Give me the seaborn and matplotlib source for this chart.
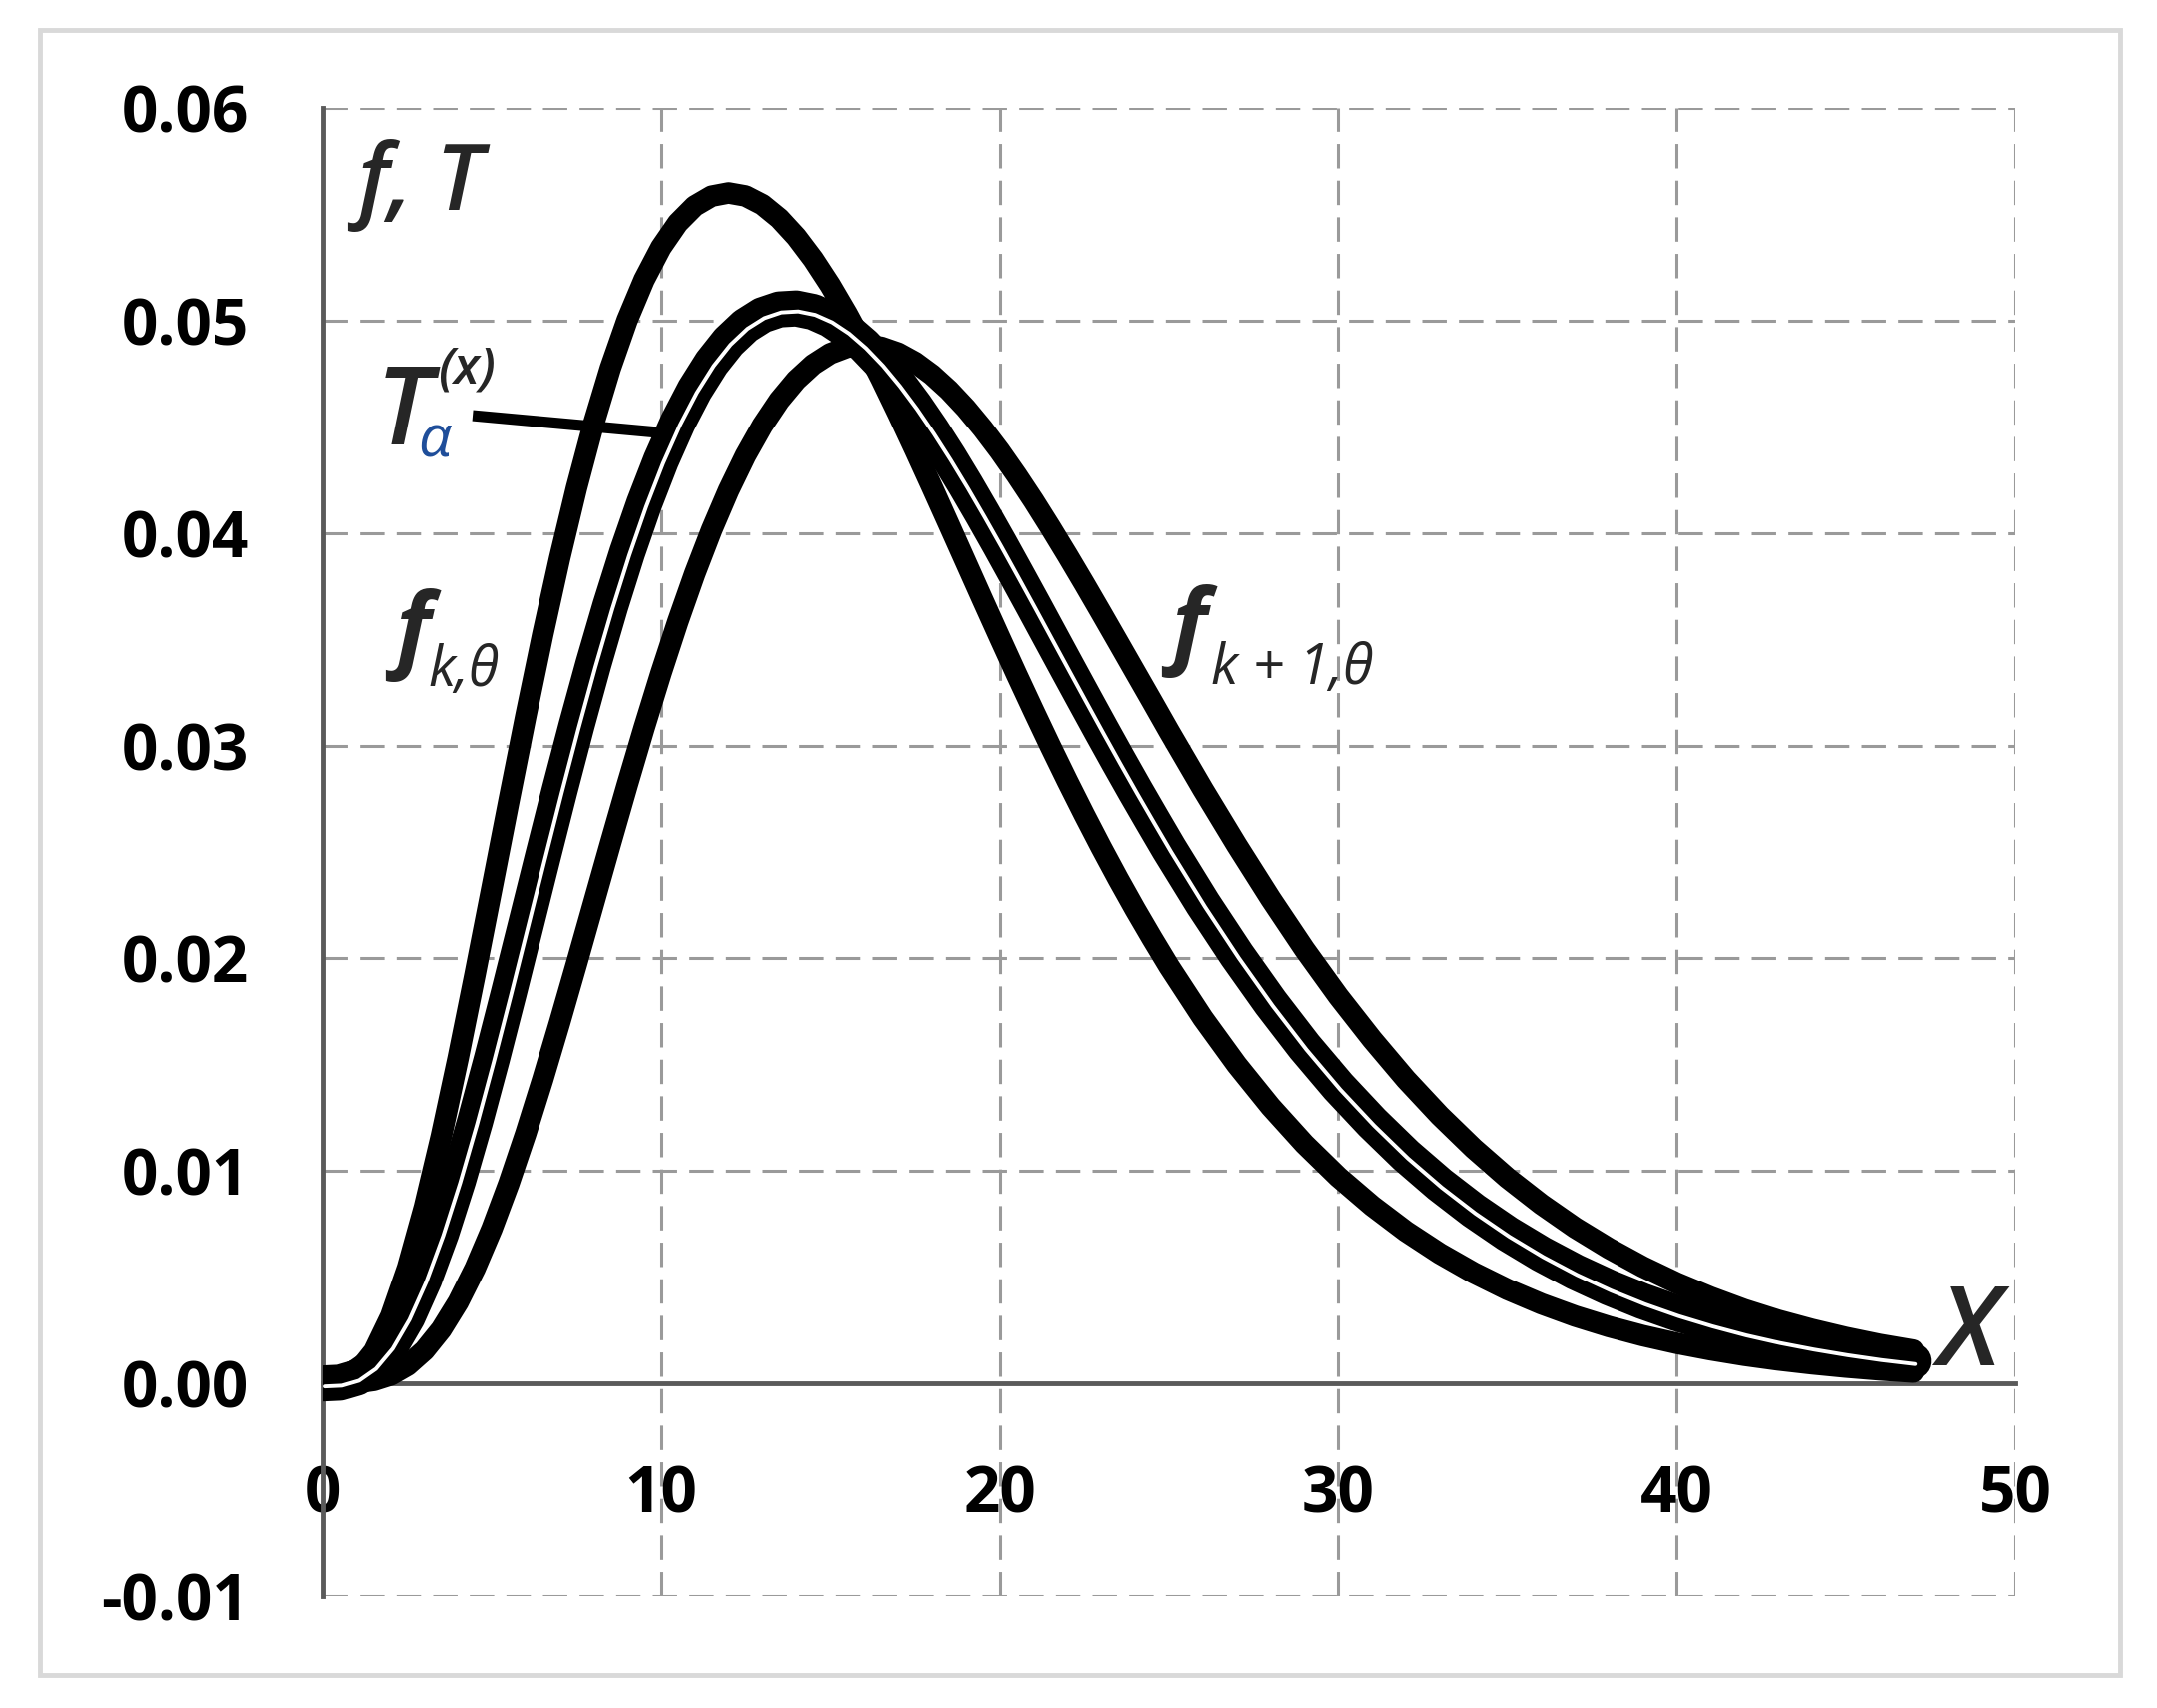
import numpy as np
import pandas as pd
import matplotlib
matplotlib.use("Agg")
import matplotlib.pyplot as plt
import matplotlib.transforms as mtransforms
from matplotlib.patches import Rectangle
import seaborn as sns

# ---------------- data ----------------
x_vals = [0.0, 0.5, 1.0, 1.5, 2.0, 2.5, 3.0, 3.5, 4.0, 4.5, 5.0, 5.5, 6.0, 6.5, 7.0, 7.5,
          8.0, 8.5, 9.0, 9.5, 10.0, 10.5, 11.0, 11.5, 12.0, 12.5, 13.0, 13.5, 14.0, 14.5,
          15.0, 15.5, 16.0, 16.5, 17.0, 17.5, 18.0, 18.5, 19.0, 19.5, 20.0, 20.5, 21.0,
          21.5, 22.0, 22.5, 23.0, 23.5, 24.0, 24.5, 25, 26, 27, 28, 29, 30, 31, 32, 33,
          34, 35, 36, 37, 38, 39, 40, 41, 42, 43, 44, 45, 46, 47]

f_k = [0.0, 0.000072, 0.000507, 0.001510, 0.003159, 0.005445, 0.008303, 0.011636,
       0.015328, 0.019261, 0.023316, 0.027387, 0.031378, 0.035206, 0.038805, 0.042120,
       0.045112, 0.047752, 0.050024, 0.051919, 0.053441, 0.054595, 0.055396, 0.055860,
       0.056010, 0.055869, 0.055460, 0.054811, 0.053946, 0.052892, 0.051675, 0.050318,
       0.048842, 0.047273, 0.045624, 0.043922, 0.042180, 0.040414, 0.038636, 0.036857,
       0.035094, 0.033350, 0.031642, 0.029964, 0.028332, 0.026749, 0.025214, 0.023734,
       0.022311, 0.020949, 0.019633, 0.017199, 0.015006, 0.013034, 0.011274, 0.009721,
       0.008359, 0.007156, 0.006113, 0.005207, 0.004423, 0.003749, 0.003169, 0.002676,
       0.002252, 0.001892, 0.001588, 0.001326, 0.001108, 0.000926, 0.000771, 0.000640,
       0.000534]

f_k1 = [0.0, 0.000002, 0.000032, 0.000142, 0.000395, 0.000851, 0.001557, 0.002545,
        0.003832, 0.005417, 0.007286, 0.009414, 0.011767, 0.014302, 0.016977, 0.019744,
        0.022556, 0.025368, 0.028139, 0.030827, 0.033401, 0.035828, 0.038085, 0.040149,
        0.042008, 0.043648, 0.045061, 0.046247, 0.047203, 0.047933, 0.048445, 0.048746,
        0.048842, 0.048750, 0.048476, 0.048040, 0.047453, 0.046729, 0.045880, 0.044919,
        0.043868, 0.042730, 0.041530, 0.040264, 0.038957, 0.037616, 0.036245, 0.034859,
        0.033467, 0.032078, 0.030677, 0.027948, 0.025323, 0.022810, 0.020434, 0.018227,
        0.016196, 0.014312, 0.012608, 0.011065, 0.009675, 0.008435, 0.007328, 0.006356,
        0.005489, 0.004730, 0.004069, 0.003481, 0.002978, 0.002547, 0.002168, 0.001840,
        0.001569]

T_alpha = [0.0, 0.000037, 0.000270, 0.000826, 0.001777, 0.003148, 0.004930, 0.007091,
           0.009580, 0.012339, 0.015301, 0.018401, 0.021573, 0.024754, 0.027891, 0.030932,
           0.033834, 0.036560, 0.039082, 0.041373, 0.043421, 0.045212, 0.046741, 0.048005,
           0.049009, 0.049759, 0.050261, 0.050529, 0.050575, 0.050413, 0.050060, 0.049532,
           0.048842, 0.048012, 0.047050, 0.045981, 0.044817, 0.043572, 0.042258, 0.040888,
           0.039481, 0.038040, 0.036586, 0.035114, 0.033645, 0.032183, 0.030730, 0.029297,
           0.027889, 0.026514, 0.025155, 0.022574, 0.020165, 0.017922, 0.015854, 0.013974,
           0.012278, 0.010734, 0.009361, 0.008136, 0.007049, 0.006092, 0.005249, 0.004516,
           0.003871, 0.003311, 0.002829, 0.002404, 0.002043, 0.001737, 0.001470, 0.001240,
           0.001052]

x_ticks = [0, 10, 20, 30, 40, 50]
x_tick_labels = ["0", "10", "20", "30", "40", "50"]
y_ticks = [-0.01, 0.0, 0.01, 0.02, 0.03, 0.04, 0.05, 0.06]
y_tick_labels = ["-0.01", "0.00", "0.01", "0.02", "0.03", "0.04", "0.05", "0.06"]

df = pd.DataFrame({"x": x_vals, "f_k": f_k, "f_k1": f_k1, "T": T_alpha})

# ---------------- style ----------------
sns.set_style("white")
plt.rcParams["font.family"] = ["Open Sans", "DejaVu Sans"]

fig = plt.figure(figsize=(21.59, 17.10), dpi=100)
fig.patch.set_facecolor("white")
ax = fig.add_axes([0.1496, 0.0655, 0.7846, 0.8713])

line_kw = dict(color="black", solid_capstyle="round", solid_joinstyle="round",
               sort=False, estimator=None, legend=False, zorder=3)

sns.lineplot(data=df, x="x", y="f_k", ax=ax, linewidth=15.5, **line_kw)
sns.lineplot(data=df, x="x", y="f_k1", ax=ax, linewidth=15.5, **line_kw)
sns.lineplot(data=df, x="x", y="T", ax=ax, linewidth=26, **line_kw)
sns.lineplot(data=df, x="x", y="T", ax=ax, linewidth=2.8, solid_joinstyle="round",
             color="white", sort=False, estimator=None, legend=False, zorder=4)
wl = ax.lines[-1]
wl.set_transform(mtransforms.offset_copy(ax.transData, fig=fig, x=2, y=-3, units="dots"))

ax.set_xlim(0, 50)
ax.set_ylim(-0.01, 0.06)
ax.set_xticks(x_ticks)
ax.set_xticklabels(x_tick_labels)
ax.set_yticks(y_ticks)
ax.set_yticklabels(y_tick_labels)
ax.set_xlabel("")
ax.set_ylabel("")

ax.grid(True, color="#9a9a9a", linewidth=2.2, linestyle=(0, (8, 4)))
ax.set_axisbelow(True)

for s in ["top", "right"]:
    ax.spines[s].set_visible(False)
ax.spines["bottom"].set_position(("data", 0))
for s in ["left", "bottom"]:
    ax.spines[s].set_color("#5a5a5a")
    ax.spines[s].set_linewidth(3.5)
    ax.spines[s].set_zorder(2.5)

ax.tick_params(axis="both", length=0)
ax.tick_params(axis="y", pad=53)
ax.tick_params(axis="x", pad=58)
for lab in ax.get_xticklabels() + ax.get_yticklabels():
    lab.set_fontsize(46)
    lab.set_fontweight("bold")
    lab.set_color("black")

# ---------------- annotations ----------------
ax.text(1.0, 0.0552, "f, T", fontsize=66, style="italic", weight="semibold",
        va="baseline", ha="left")
ax.text(47.7, 0.00085, "X", fontsize=80, style="italic", weight="semibold",
        va="baseline", ha="left")

ax.text(2.13, 0.0340, "f", fontsize=68, style="italic", weight="bold", va="baseline", ha="left")
ax.text(3.10, 0.0328, "k,θ", fontsize=40, style="italic", va="baseline", ha="left")

ax.text(25.06, 0.0342, "f", fontsize=68, style="italic", weight="bold", va="baseline", ha="left")
ax.text(26.24, 0.0329, "k + 1,θ", fontsize=40, style="italic", va="baseline", ha="left")

ax.text(1.55, 0.04417, "T", fontsize=78, style="italic", weight="semibold",
        va="baseline", ha="left")
ax.text(2.80, 0.04356, "α", fontsize=42, style="italic", color="#1f4e9a",
        va="baseline", ha="left")
ax.text(3.40, 0.04708, "(x)", fontsize=37, style="italic", weight="semibold",
        va="baseline", ha="left")
ax.plot([4.43, 9.95], [0.04553, 0.04473], color="black", linewidth=8, zorder=3,
        solid_capstyle="butt")

# outer light frame
fig.patches.append(Rectangle((40 / 2159, 1 - 1677 / 1710), (2122 - 40) / 2159, (1677 - 30) / 1710,
                             transform=fig.transFigure, fill=False, edgecolor="#d9d9d9",
                             linewidth=3.5, zorder=0))

fig.savefig("out.png", dpi=100, facecolor="white")
